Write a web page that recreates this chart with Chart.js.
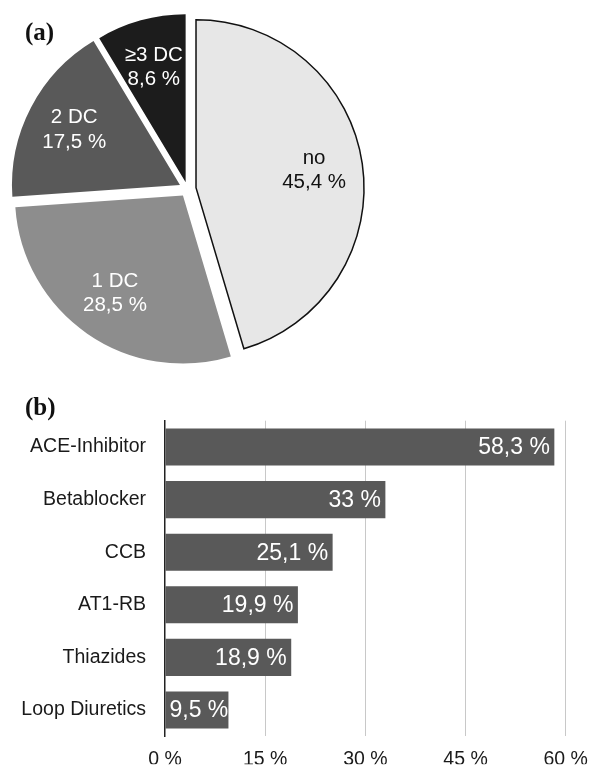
<!DOCTYPE html>
<html>
<head>
<meta charset="utf-8">
<title>Antihypertensive drug classes</title>
<script src="https://cdn.jsdelivr.net/npm/chart.js@4.4.1/dist/chart.umd.min.js"></script>
<style>
  html, body { margin: 0; padding: 0; background: #ffffff; }
  body { width: 590px; height: 767px; position: relative; overflow: hidden; }
  .panel { position: absolute; left: 0; }
  #pieBox { top: 0; width: 375px; height: 378px; }
  #barBox { top: 380px; width: 590px; height: 387px; }
</style>
</head>
<body>
<div class="panel" id="pieBox"><canvas id="pieChart"></canvas></div>
<div class="panel" id="barBox"><canvas id="barChart"></canvas></div>
<script>
// (a) number of drug classes taken
const pieCategories = ['no', '1 DC', '2 DC', '\u22653 DC'];
const pieShares = [45.4, 28.5, 17.5, 8.6];

// (b) share of patients per drug class
const drugClasses = ['ACE-Inhibitor', 'Betablocker', 'CCB', 'AT1-RB', 'Thiazides', 'Loop Diuretics'];
const drugShares = [58.3, 33, 25.1, 19.9, 18.9, 9.5];

// x axis ticks of panel (b)
const axisTicks = [0, 15, 30, 45, 60];

const SANS = '"Liberation Sans", Arial, Helvetica, sans-serif';
const SERIF = '"Liberation Serif", "Times New Roman", Times, serif';

const pct = v => String(v).replace('.', ',') + ' %';

// Bold panel letter in the top-left corner
const panelTag = {
  id: 'panelTag',
  afterDraw(chart, args, opts) {
    const ctx = chart.ctx;
    ctx.save();
    ctx.font = 'bold 25px ' + SERIF;
    ctx.fillStyle = '#111';
    ctx.textAlign = 'left';
    ctx.textBaseline = 'middle';
    ctx.fillText(opts.text, opts.x, opts.y);
    ctx.restore();
  }
};

// Pulls every slice out from the centre along its mid angle, keeping one radius
const explode = {
  id: 'explode',
  beforeDatasetDraw(chart, args, opts) {
    const ctx = chart.ctx;
    args.meta.data.forEach((arc, i) => {
      const p = arc.getProps(['startAngle', 'endAngle'], true);
      const mid = (p.startAngle + p.endAngle) / 2;
      const d = opts.distance[i] || 0;
      ctx.save();
      ctx.translate(Math.cos(mid) * d, Math.sin(mid) * d);
      arc.draw(ctx, chart.chartArea);
      ctx.restore();
    });
    return false;
  }
};

// Category name and share written inside each slice
const sliceLabels = {
  id: 'sliceLabels',
  afterDatasetsDraw(chart, args, opts) {
    const ctx = chart.ctx;
    const meta = chart.getDatasetMeta(0);
    const dist = chart.options.plugins.explode.distance;
    ctx.save();
    ctx.font = '20.5px ' + SANS;
    ctx.textAlign = 'center';
    ctx.textBaseline = 'middle';
    meta.data.forEach((arc, i) => {
      const p = arc.getProps(['x', 'y', 'startAngle', 'endAngle', 'outerRadius'], true);
      const mid = (p.startAngle + p.endAngle) / 2;
      const r = (dist[i] || 0) + opts.radial * p.outerRadius;
      const lx = p.x + Math.cos(mid) * r;
      const ly = p.y + Math.sin(mid) * r;
      ctx.fillStyle = opts.colors[i];
      ctx.fillText(pieCategories[i], lx, ly - 12.25);
      ctx.fillText(pct(pieShares[i]), lx, ly + 12.25);
    });
    ctx.restore();
  }
};

new Chart(document.getElementById('pieChart'), {
  type: 'pie',
  data: {
    labels: pieCategories,
    datasets: [{
      data: pieShares,
      backgroundColor: ['#e7e7e7', '#8d8d8d', '#595959', '#1c1c1c'],
      borderColor: ['#111111', '#8d8d8d', '#595959', '#1c1c1c'],
      borderWidth: [1.5, 0, 0, 0],
      borderJoinStyle: 'miter',
      borderAlign: 'center',
      offset: 0,
      hoverOffset: 0
    }]
  },
  options: {
    responsive: true,
    maintainAspectRatio: false,
    animation: false,
    radius: 168,
    layout: { padding: 0 },
    events: [],
    plugins: {
      legend: { display: false },
      tooltip: { enabled: false },
      explode: { distance: [8.6, 8, 8.5, 7] },
      sliceLabels: { radial: 0.71, colors: ['#111111', '#ffffff', '#ffffff', '#ffffff'] },
      panelTag: { text: '(a)', x: 25, y: 34 }
    }
  },
  plugins: [explode, sliceLabels, panelTag]
});

// Share written in white at the end of each bar, clipped to the bar
const barValues = {
  id: 'barValues',
  afterDatasetsDraw(chart) {
    const ctx = chart.ctx;
    const meta = chart.getDatasetMeta(0);
    ctx.save();
    ctx.font = '23px ' + SANS;
    ctx.fillStyle = '#ffffff';
    ctx.textAlign = 'right';
    ctx.textBaseline = 'middle';
    meta.data.forEach((bar, i) => {
      const p = bar.getProps(['x', 'y', 'base', 'height'], true);
      const text = pct(drugShares[i]);
      const w = ctx.measureText(text).width;
      const tx = Math.max(p.x - 4.5, p.base + 4 + w);
      ctx.save();
      ctx.beginPath();
      ctx.rect(p.base, p.y - p.height / 2, p.x - p.base, p.height);
      ctx.clip();
      ctx.fillText(text, tx, p.y + 1);
      ctx.restore();
    });
    ctx.restore();
  }
};

new Chart(document.getElementById('barChart'), {
  type: 'bar',
  data: {
    labels: drugClasses,
    datasets: [{
      data: drugShares,
      backgroundColor: '#595959',
      borderWidth: 0,
      categoryPercentage: 1,
      barPercentage: 0.705
    }]
  },
  options: {
    indexAxis: 'y',
    responsive: true,
    maintainAspectRatio: false,
    animation: false,
    events: [],
    layout: { padding: { top: 40.7, right: 24.3, left: 0, bottom: 0 } },
    scales: {
      x: {
        min: axisTicks[0],
        max: axisTicks[axisTicks.length - 1],
        afterBuildTicks: s => { s.ticks = axisTicks.map(v => ({ value: v })); },
        afterFit: s => { s.height = 28; s.paddingLeft = 0; s.paddingRight = 0; },
        ticks: {
          callback: v => v + ' %',
          color: '#1a1a1a',
          font: { family: SANS, size: 19.5 },
          padding: 12,
          maxRotation: 0
        },
        grid: {
          color: c => (c.tick && c.tick.value === 0) ? 'rgba(0,0,0,0)' : '#c8c8c8',
          lineWidth: 1,
          drawTicks: false
        },
        border: { display: false }
      },
      y: {
        afterFit: s => { s.width = 165; },
        ticks: {
          color: '#1a1a1a',
          font: { family: SANS, size: 19.5 },
          padding: 19
        },
        grid: { display: false, drawTicks: false },
        border: { display: true, color: '#222222', width: 1.5 }
      }
    },
    plugins: {
      legend: { display: false },
      tooltip: { enabled: false },
      panelTag: { text: '(b)', x: 25, y: 28.5 }
    }
  },
  plugins: [barValues, panelTag]
});
</script>
</body>
</html>
